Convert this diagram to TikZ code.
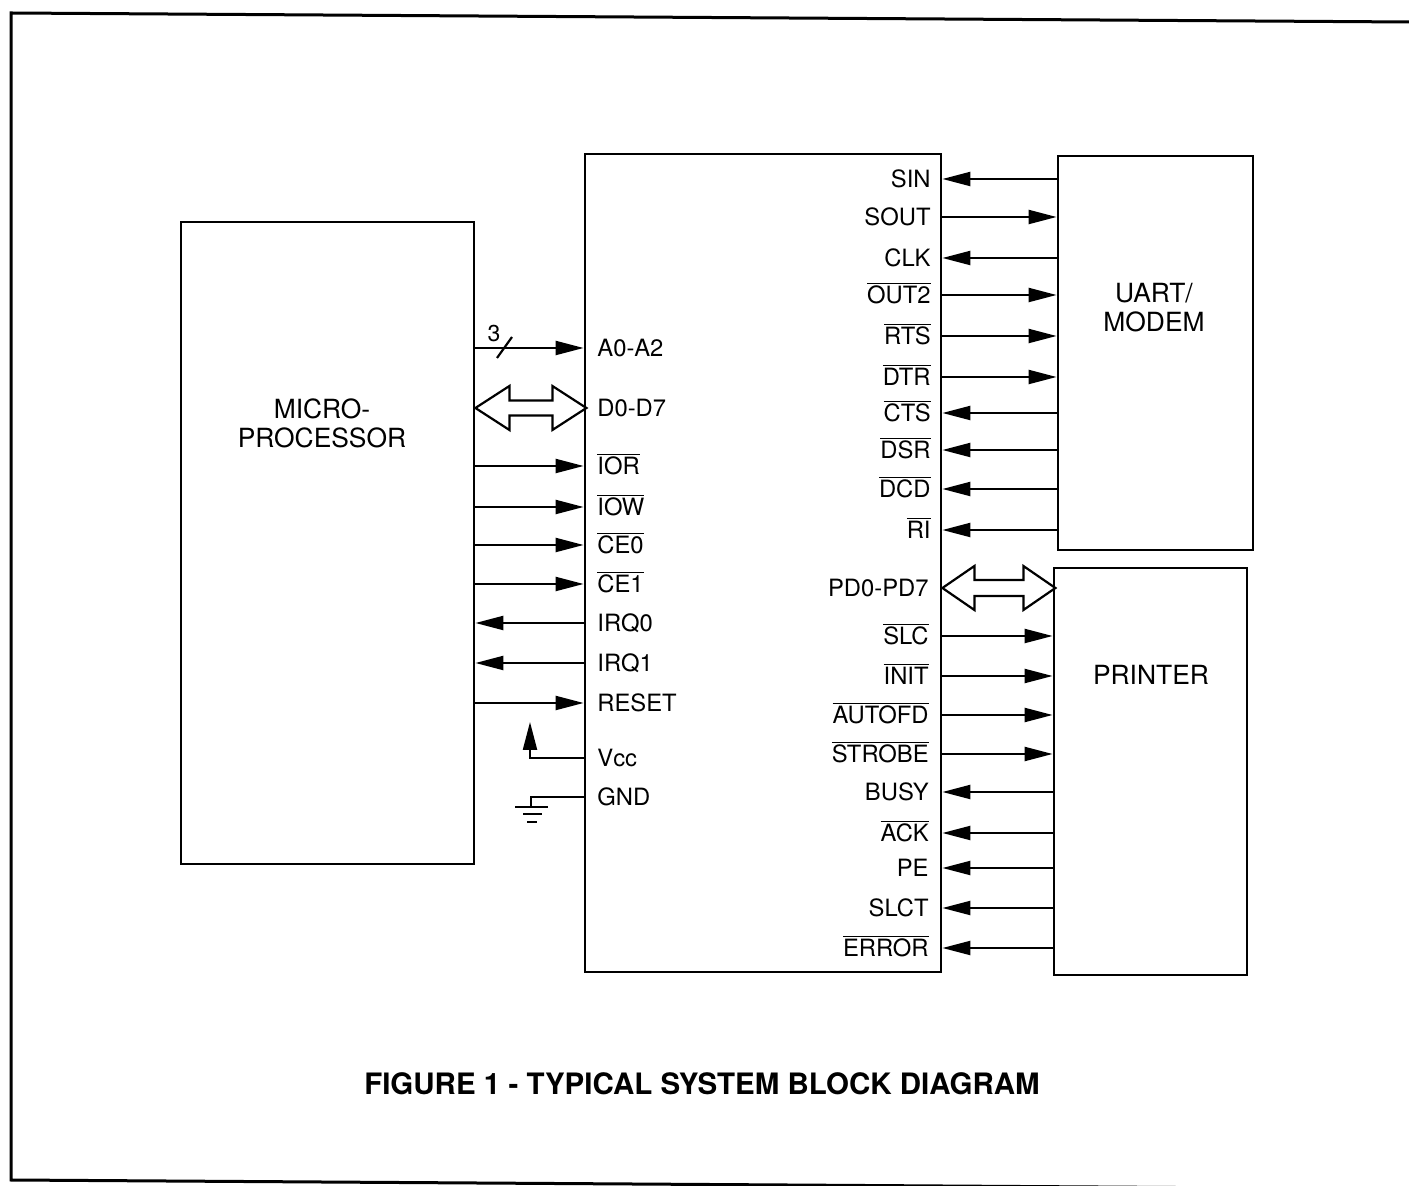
\documentclass[tikz,border=0pt]{standalone}
\usepackage{fontspec}
\setmainfont{TeX Gyre Heros}
\usetikzlibrary{arrows.meta}
\newcommand{\ovl}[1]{$\overline{\mbox{#1}}$}
\begin{document}
\begin{tikzpicture}[x=0.5pt,y=-0.5pt,
  box/.style={draw, line width=1.4pt, inner sep=0pt},
  boxlbl/.style={align=center, inner sep=0pt, font=\fontsize{13.2}{14.5}\selectfont},
  wire/.style={line width=1.1pt},
  tip/.style={-{Triangle[length=14pt,width=7pt]}},
  pinl/.style={anchor=base west, inner sep=0pt, font=\fontsize{11.9}{14}\selectfont},
  pinr/.style={anchor=base east, inner sep=0pt, font=\fontsize{11.9}{14}\selectfont},
  dbl/.style={line width=1.1pt, fill=white, line join=miter}]
\useasboundingbox (0,0) rectangle (1409,1186);
\clip (0,0) rectangle (1409,1186);
% frame
\draw[line width=1.5pt] (1409,22) -- (11,13) -- (11,1180) -- (1409,1189);
% boxes
\node[box, minimum width=146.5pt, minimum height=321pt] (micro) at (327.5,543) {};
\node[boxlbl] (microlbl) at (322,423) {MICRO-\\PROCESSOR};
\node[box, minimum width=178pt, minimum height=409pt] (chip) at (763,563) {};
\node[box, minimum width=97.5pt, minimum height=197pt] (uart) at (1155.5,353) {};
\node[boxlbl] (uartlbl) at (1154,308) {UART/\\MODEM};
\node[box, minimum width=96.5pt, minimum height=203.5pt] (prn) at (1150.5,771.5) {};
\node[boxlbl] (prnlbl) at (1151,675) {PRINTER};
% left pins into chip
\foreach \n/\y/\t in {a/348/A0-A2, ior/466/{\ovl{IOR}}, iow/507/{\ovl{IOW}}, ceo/545/{\ovl{CE0}}, cei/584/{\ovl{CE1}}, rst/703/RESET}{
  \coordinate (P\n) at (0,\y);
  \node[pinl] (L\n) at (597,\y+8.5) {\t};
  \draw[wire,tip] (micro.east |- P\n) -- (chip.west |- P\n);
}
% left pins out of chip
\foreach \n/\y/\t in {irqo/623/IRQ0, irqi/663/IRQ1}{
  \coordinate (P\n) at (0,\y);
  \node[pinl] (L\n) at (597,\y+8.5) {\t};
  \draw[wire,tip] (chip.west |- P\n) -- (micro.east |- P\n);
}
% other left labels
\foreach \n/\y/\t in {d/408/D0-D7, vcc/758/Vcc, gnd/797/GND}{
  \coordinate (P\n) at (0,\y);
  \node[pinl] (L\n) at (597,\y+8.5) {\t};
}
% bus width mark
\draw[wire] (497,358) -- (512,337);
\node[inner sep=0pt, font=\fontsize{11.5}{13}\selectfont] (buswidth) at (494,334) {3};
% data bus double arrow
\draw[dbl] (micro.east |- Pd) -- ++(34,-22) -- ++(0,14.5) -- ++(43,0) -- ++(0,-14.5) -- ++(34,22)
  -- ++(-34,22) -- ++(0,-14.5) -- ++(-43,0) -- ++(0,14.5) -- cycle;
% Vcc
\coordinate (vcctip) at (530,722);
\draw[wire,tip] (chip.west |- Pvcc) -| (vcctip);
% GND
\coordinate (gnd) at (531,807);
\draw[wire] (chip.west |- Pgnd) -| (gnd);
\draw[wire] (515,807) -- (548,807);
\draw[wire] (523,814) -- (542,814);
\draw[wire] (527,822) -- (537,822);
% UART pins out of chip
\foreach \n/\y/\t in {sout/217/SOUT, outt/295/{\ovl{OUT2}}, rts/336/{\ovl{RTS}}, dtr/377/{\ovl{DTR}}}{
  \coordinate (P\n) at (0,\y);
  \node[pinr] (L\n) at (931,\y+8.5) {\t};
  \draw[wire,tip] (chip.east |- P\n) -- (uart.west |- P\n);
}
% UART pins into chip
\foreach \n/\y/\t in {sin/179/SIN, clk/258/CLK, cts/413/{\ovl{CTS}}, dsr/450/{\ovl{DSR}}, dcd/489/{\ovl{DCD}}, ri/530/{\ovl{RI}}}{
  \coordinate (P\n) at (0,\y);
  \node[pinr] (L\n) at (931,\y+8.5) {\t};
  \draw[wire,tip] (uart.west |- P\n) -- (chip.east |- P\n);
}
% printer pins out of chip
\foreach \n/\y/\t in {slc/636/{\ovl{SLC}}, init/676/{\ovl{INIT}}, afd/715/{\ovl{AUTOFD}}, stb/754/{\ovl{STROBE}}}{
  \coordinate (P\n) at (0,\y);
  \node[pinr] (L\n) at (929,\y+8.5) {\t};
  \draw[wire,tip] (chip.east |- P\n) -- (prn.west |- P\n);
}
% printer pins into chip
\foreach \n/\y/\t in {busy/792/BUSY, ack/833/{\ovl{ACK}}, pe/868/PE, slct/908/SLCT, err/948/{\ovl{ERROR}}}{
  \coordinate (P\n) at (0,\y);
  \node[pinr] (L\n) at (929,\y+8.5) {\t};
  \draw[wire,tip] (prn.west |- P\n) -- (chip.east |- P\n);
}
% printer data bus
\coordinate (Ppd) at (0,588);
\node[pinr] (Lpd) at (929,596.5) {PD0-PD7};
\draw[dbl] (chip.east |- Ppd) -- ++(32,-22) -- ++(0,14) -- ++(49,0) -- ++(0,-14) -- ++(32,22)
  -- ++(-32,22) -- ++(0,-14) -- ++(-49,0) -- ++(0,14) -- cycle;
% title
\node[inner sep=0pt, font=\fontsize{14.75}{17}\bfseries\selectfont] (title) at (702,1084) {FIGURE 1 - TYPICAL SYSTEM BLOCK DIAGRAM};
\end{tikzpicture}
\end{document}
